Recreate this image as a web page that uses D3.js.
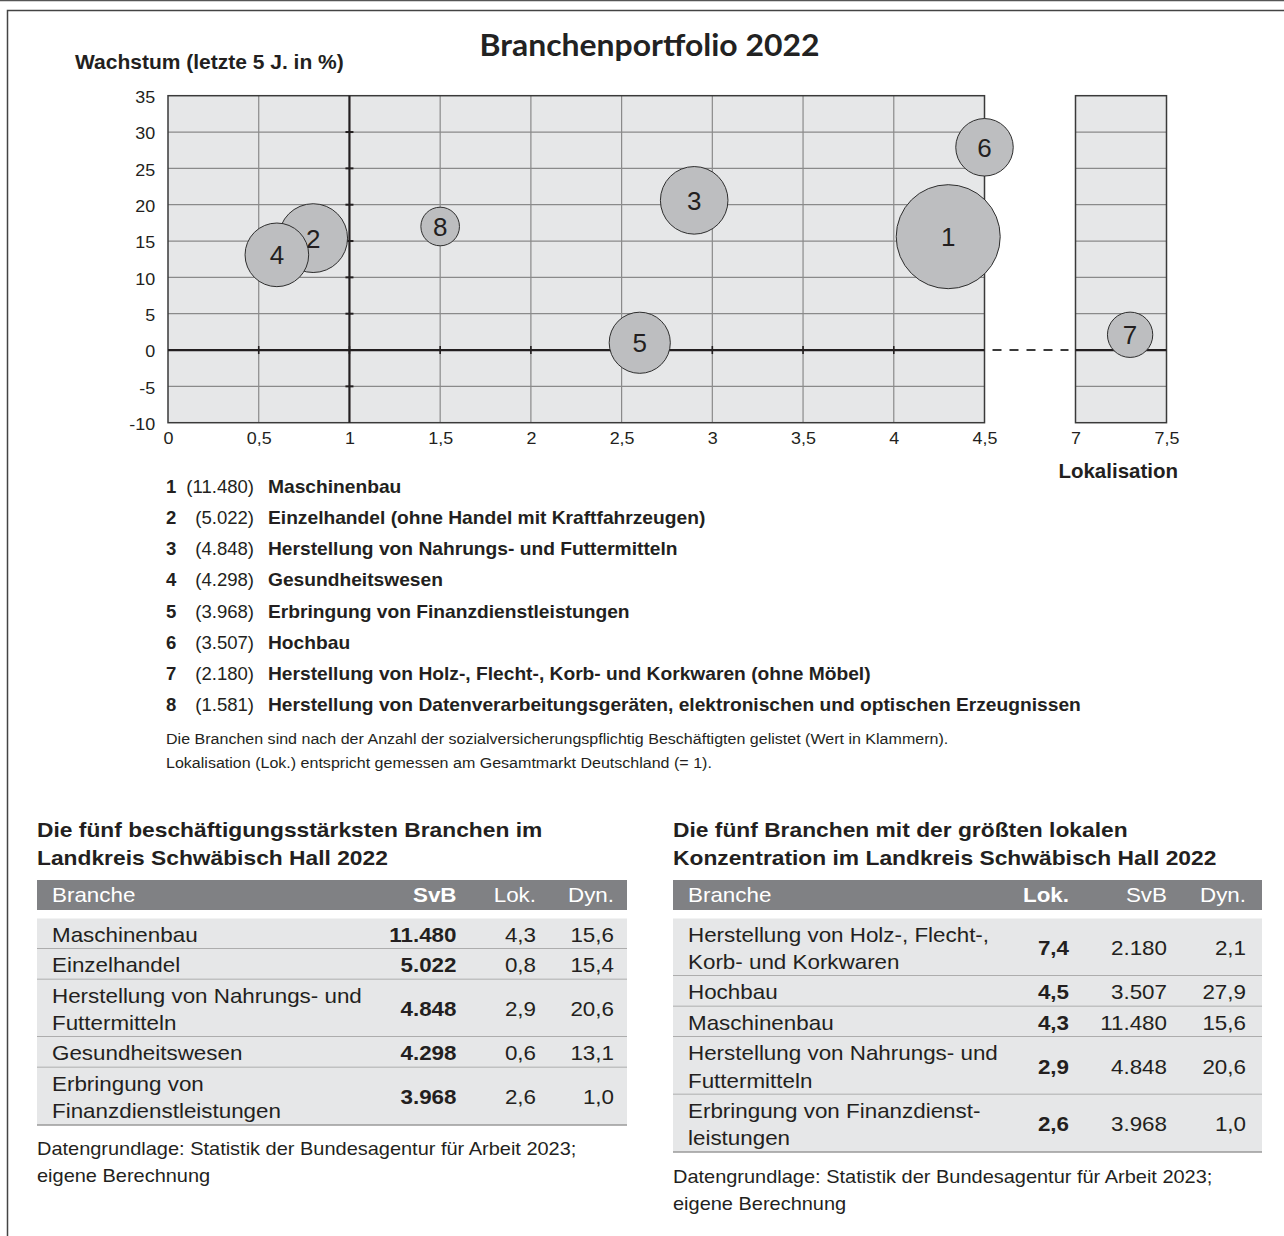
<!DOCTYPE html>
<html><head><meta charset="utf-8">
<script src="https://cdn.jsdelivr.net/npm/d3@7"></script>
<style>body{margin:0;background:#fff}svg{display:block}</style>
</head><body>
<svg id="c" width="1284" height="1236"></svg>
<script>
// ---------- data ----------
const bubbleIds   = ["1","2","3","4","5","6","7","8"];
const branchNames = ["Maschinenbau","Einzelhandel (ohne Handel mit Kraftfahrzeugen)","Herstellung von Nahrungs- und Futtermitteln","Gesundheitswesen","Erbringung von Finanzdienstleistungen","Hochbau","Herstellung von Holz-, Flecht-, Korb- und Korkwaren (ohne Möbel)","Herstellung von Datenverarbeitungsgeräten, elektronischen und optischen Erzeugnissen"];
const svbValues   = [11480, 5022, 4848, 4298, 3968, 3507, 2180, 1581];
const lokValues   = [4.3, 0.8, 2.9, 0.6, 2.6, 4.5, 7.3, 1.5];
const dynValues   = [15.6, 15.4, 20.6, 13.1, 1.0, 27.9, 2.1, 17.0];
const drawOrder   = [0, 1, 3, 2, 4, 5, 6, 7];
const xTicksMain  = [0, 0.5, 1, 1.5, 2, 2.5, 3, 3.5, 4, 4.5];
const xTicksBreak = [7, 7.5];
const yTicks      = [-10, -5, 0, 5, 10, 15, 20, 25, 30, 35];
const footnotes   = ["Die Branchen sind nach der Anzahl der sozialversicherungspflichtig Beschäftigten gelistet (Wert in Klammern).","Lokalisation (Lok.) entspricht gemessen am Gesamtmarkt Deutschland (= 1)."];

const t1Title = ["Die fünf beschäftigungsstärksten Branchen im","Landkreis Schwäbisch Hall 2022"];
const t1Head  = ["Branche","SvB","Lok.","Dyn."];
const t1Names = [["Maschinenbau"],["Einzelhandel"],["Herstellung von Nahrungs- und","Futtermitteln"],["Gesundheitswesen"],["Erbringung von","Finanzdienstleistungen"]];
const t1SvB = [11480, 5022, 4848, 4298, 3968];
const t1Lok = [4.3, 0.8, 2.9, 0.6, 2.6];
const t1Dyn = [15.6, 15.4, 20.6, 13.1, 1.0];

const t2Title = ["Die fünf Branchen mit der größten lokalen","Konzentration im Landkreis Schwäbisch Hall 2022"];
const t2Head  = ["Branche","Lok.","SvB","Dyn."];
const t2Names = [["Herstellung von Holz-, Flecht-,","Korb- und Korkwaren"],["Hochbau"],["Maschinenbau"],["Herstellung von Nahrungs- und","Futtermitteln"],["Erbringung von Finanzdienst-","leistungen"]];
const t2Lok = [7.4, 4.5, 4.3, 2.9, 2.6];
const t2SvB = [2180, 3507, 11480, 4848, 3968];
const t2Dyn = [2.1, 27.9, 15.6, 20.6, 1.0];
const sourceNote = ["Datengrundlage: Statistik der Bundesagentur für Arbeit 2023;","eigene Berechnung"];

// ---------- setup ----------
const de = d3.formatLocale({decimal:",", thousands:".", grouping:[3], currency:["","€"], minus:"-"});
const fInt = de.format(",.0f"), f1 = de.format(".1f");
const fAxis = v => de.format("~g")(v);
const INK = "#231f20", SANS = "'Liberation Sans', Arial, Helvetica, sans-serif";
const svg = d3.select("#c");

function txt(g, x, y, s, fs, o = {}) {
  return g.append("text")
    .attr("transform", `translate(${x},${y}) scale(${o.sx || 1},1)`)
    .attr("font-family", o.family || SANS).attr("font-size", fs)
    .attr("font-weight", o.bold ? "bold" : "normal")
    .attr("text-anchor", o.anchor || "start")
    .attr("fill", o.fill || INK).text(s);
}

// page frame
svg.append("line").attr("x1",0).attr("x2",1284).attr("y1",0.5).attr("y2",0.5).attr("stroke","#555").attr("stroke-width",1.5);
svg.append("path").attr("d","M1284,10.5H7.5V1236").attr("fill","none").attr("stroke","#444").attr("stroke-width",1.5);

// ---------- scales ----------
const x  = d3.scaleLinear().domain([0, 4.5]).range([168, 984.5]);
const xb = d3.scaleLinear().domain([7, 7.5]).range([1075.5, 1166.5]);
const y  = d3.scaleLinear().domain([-10, 35]).range([422.7, 95.7]);
const r  = d3.scaleSqrt().domain([0, d3.max(svbValues)]).range([0, 52]);
const px = v => v >= 7 ? xb(v) : x(v);

// titles
txt(svg, 649.5, 56, "Branchenportfolio 2022", 31, {bold:true, anchor:"middle", family:"Lato, 'Open Sans', sans-serif", fill:"#222", sx:1.03});
txt(svg, 75, 69, "Wachstum (letzte 5 J. in %)", 21, {bold:true});
txt(svg, 1178, 478, "Lokalisation", 20.5, {bold:true, anchor:"end"});

// panels
const plot = svg.append("g");
function panel(sc, xt, gridX) {
  const [x0, x1] = sc.range();
  plot.append("rect").attr("x", x0).attr("y", y(35)).attr("width", x1 - x0).attr("height", y(-10) - y(35)).attr("fill", "#e6e7e8");
  plot.selectAll(null).data(yTicks.filter(v => v !== 0 && v !== 35 && v !== -10)).join("line")
    .attr("x1", x0).attr("x2", x1).attr("y1", d => y(d)).attr("y2", d => y(d))
    .attr("stroke", "#8a8a8a").attr("stroke-width", 1.2);
  if (gridX) plot.selectAll(null).data(xt.filter(v => v !== 0 && v !== 1 && v !== 4.5)).join("line")
    .attr("x1", d => sc(d)).attr("x2", d => sc(d)).attr("y1", y(35)).attr("y2", y(-10))
    .attr("stroke", "#8a8a8a").attr("stroke-width", 1.2);
  plot.append("rect").attr("x", x0).attr("y", y(35)).attr("width", x1 - x0).attr("height", y(-10) - y(35))
    .attr("fill", "none").attr("stroke", "#3a3a3a").attr("stroke-width", 1.5);
  plot.append("line").attr("x1", x0).attr("x2", x1).attr("y1", y(0)).attr("y2", y(0)).attr("stroke", INK).attr("stroke-width", 2.2);
  const ax = plot.append("g").attr("transform", `translate(0,${y(-10)})`)
    .call(d3.axisBottom(sc).tickValues(xt).tickSize(0).tickPadding(10).tickFormat(fAxis));
  ax.select(".domain").remove();
  ax.selectAll("text").attr("font-family", SANS).attr("font-size", 16).attr("fill", INK).attr("transform", "scale(1.12,1)");
}
panel(x, xTicksMain, true);
panel(xb, xTicksBreak, false);

// y axis labels
const ay = plot.append("g").attr("transform", `translate(${x(0)},0)`)
  .call(d3.axisLeft(y).tickValues(yTicks).tickSize(0).tickPadding(11.5).tickFormat(fAxis));
ay.select(".domain").remove();
ay.selectAll("text").attr("font-family", SANS).attr("font-size", 16).attr("fill", INK).attr("dy", "0.42em").attr("transform", "scale(1.12,1)");

// axis lines through x=1 and y=0, with small tick marks
plot.append("line").attr("x1", x(1)).attr("x2", x(1)).attr("y1", y(35)).attr("y2", y(-10)).attr("stroke", INK).attr("stroke-width", 2.2);
plot.selectAll(null).data(yTicks.filter(v => v > -10 && v < 35)).join("line")
  .attr("x1", x(1) - 4).attr("x2", x(1) + 4).attr("y1", d => y(d)).attr("y2", d => y(d)).attr("stroke", INK).attr("stroke-width", 2);
plot.selectAll(null).data(xTicksMain.filter(v => v > 0 && v < 4.5)).join("line")
  .attr("x1", d => x(d)).attr("x2", d => x(d)).attr("y1", y(0) - 4).attr("y2", y(0) + 4).attr("stroke", INK).attr("stroke-width", 1.6);
// broken axis connector
plot.append("line").attr("x1", x(4.5) + 8).attr("x2", xb(7) - 7).attr("y1", y(0)).attr("y2", y(0))
  .attr("stroke", "#3a3a3a").attr("stroke-width", 2).attr("stroke-dasharray", "9,8");

// bubbles
const bub = plot.selectAll("g.b").data(drawOrder).join("g").attr("class", "b")
  .attr("transform", i => `translate(${px(lokValues[i])},${y(dynValues[i])})`);
bub.append("circle").attr("r", i => r(svbValues[i])).attr("fill", "#bdbec0").attr("stroke", "#2e2e2e").attr("stroke-width", 1);
bub.append("text").attr("text-anchor", "middle").attr("dy", "0.36em").attr("font-family", SANS)
  .attr("font-size", 26).attr("fill", INK).text(i => bubbleIds[i]);

// legend
const leg = svg.append("g");
branchNames.forEach((n, i) => {
  const yy = 492.7 + i * 31.2;
  txt(leg, 166, yy, bubbleIds[i], 17.5, {bold:true, sx:1.06});
  txt(leg, 254, yy, "(" + fInt(svbValues[i]) + ")", 17.5, {anchor:"end", sx:1.06});
  txt(leg, 268, yy, n, 17.5, {bold:true, sx:1.098});
});
footnotes.forEach((f, i) => txt(leg, 166, 744 + i * 24, f, 15.5, {sx:1.035}));

// tables
function table(x0, x1, title, head, headBoldIdx, cols, names, colRight, boldCol, noteY) {
  const g = svg.append("g");
  title.forEach((t, i) => txt(g, x0, 836.5 + i * 28, t, 20, {bold:true, sx:1.14}));
  g.append("rect").attr("x", x0).attr("y", 880).attr("width", x1 - x0).attr("height", 30).attr("fill", "#808184");
  head.forEach((h, i) => txt(g, i === 0 ? x0 + 15 : colRight[i - 1], 902, h, 20,
    {fill:"#fff", bold: i === headBoldIdx, anchor: i === 0 ? "start" : "end", sx:1.12}));
  let top = 918.5;
  names.forEach((lines, ri) => {
    const h = lines.length === 1 ? 30.5 : 57.5;
    g.append("rect").attr("x", x0).attr("y", top).attr("width", x1 - x0).attr("height", h).attr("fill", "#e6e7e8");
    const base = top + h / 2 + 8;
    lines.forEach((l, li) => txt(g, x0 + 15, lines.length === 1 ? base : base + (li === 0 ? -13.75 : 13.75), l, 20, {sx:1.12}));
    cols.forEach((c, ci) => txt(g, colRight[ci], base, c[ri], 20, {anchor:"end", bold: ci === boldCol, sx:1.12}));
    top += h;
    g.append("line").attr("x1", x0).attr("x2", x1).attr("y1", top).attr("y2", top).attr("stroke", "#9a9a9a").attr("stroke-width", 1.6);
  });
  sourceNote.forEach((s, i) => txt(g, x0, noteY + i * 27, s, 18, {sx:1.11}));
}
table(37, 627, t1Title, t1Head, 1,
  [t1SvB.map(fInt), t1Lok.map(f1), t1Dyn.map(f1)], t1Names, [456.5, 536, 614], 0, 1155);
table(673, 1262, t2Title, t2Head, 1,
  [t2Lok.map(f1), t2SvB.map(fInt), t2Dyn.map(f1)], t2Names, [1069, 1167, 1246], 0, 1183);
</script>
</body></html>
